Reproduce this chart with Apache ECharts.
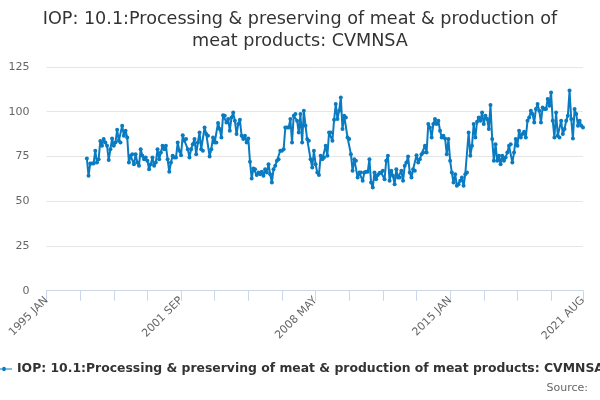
<!DOCTYPE html>
<html>
<head>
<meta charset="utf-8">
<script src="https://cdn.jsdelivr.net/npm/echarts@6/dist/echarts.min.js"></script>
<style>html,body{margin:0;padding:0;background:#fff;}#c{width:600px;height:400px;}</style>
</head>
<body>
<div id="c"></div>
<script>
const titleText = 'IOP: 10.1:Processing & preserving of meat & production of\nmeat products: CVMNSA';
const seriesName = 'IOP: 10.1:Processing & preserving of meat & production of meat products: CVMNSA';
const monthNames = ['JAN','FEB','MAR','APR','MAY','JUN','JUL','AUG','SEP','OCT','NOV','DEC'];
const firstYear = 1995;
const lastYear = 2021;
const lastMonth = 8;
const dataStartYear = 1997;
const yTicks = [0, 25, 50, 75, 100, 125];
// monthly values from 1997 JAN to 2021 AUG
const values = [
73.9,64.2,71.1,71.1,71.1,78.2,71.6,73.5,83.7,81,84.7,82.8,
81,73,79.1,85,81,82.8,89.9,83.8,82.8,92.2,86.6,89.4,
85.6,71.6,75.4,76.3,70.7,76.3,71.6,69.8,79.1,75.4,73.5,74.4,
72.6,67.9,70.7,74.4,69.8,71.6,79.1,73.5,77.2,81,79.1,81,
73.5,66.4,71.6,75.4,74.4,74.4,82.8,78.2,75.7,86.9,83.8,84.7,
79.1,74.4,79.1,81.9,84.7,76.3,82.8,88.4,79.1,78.2,91.2,87.5,
86.6,75,79.1,85.6,82.8,82.8,93.7,90.3,85.6,98.1,97.8,94,
95.9,89.4,96.8,99.6,95,87.5,93.1,95.5,86.6,84.7,86.6,82.8,
85,72,62.7,68.3,67.9,64.6,66,65.1,66.4,64.2,67.9,66,
70.7,65.1,60.4,67.9,69.8,72.6,73.5,78.2,78.2,79.1,91.2,91.2,
91.2,95.9,82.8,97.8,98.7,95,88.4,98.7,82.8,100.6,92.2,84.7,
83.8,73.5,68.8,78.2,70.7,66,64.6,75.4,73.5,74.4,81,75.4,
88.4,88.4,83.8,95.5,104.3,95.9,100.6,108,90.3,97.8,96.8,85.6,
84.7,76.3,67,73.5,72.6,63.2,66,66,61.4,66,66.4,66.4,
73.5,60.4,57.6,66,62.3,64.6,65.7,66,67,62.3,72.6,75.4,
61.4,67,64.2,59.5,67.9,63.2,63.2,67,61.4,69.8,71.6,75,
66,63.2,67.9,67,75.7,71.6,73.5,76.3,77.2,81,77.2,93.1,
91.2,85.6,93.1,95.9,93.1,95,89.4,85.6,86.6,85,76.3,84.7,
72.6,66,60.4,65.1,58.6,59.5,61.4,63.2,58.6,65.1,66,88.4,
75.4,81,93.1,85.6,94.4,96.8,95,99.6,93.1,97.8,95.9,90.3,
103.7,84.7,72.6,81.9,72.6,75.4,70.7,75.4,72.6,74.4,77.2,81,
81.9,71.6,77.2,84.7,81,89.4,85.6,87.5,88.8,85.6,95,96.8,
100.6,98.7,94,101.5,104.3,100.6,94,102.4,101.5,101.5,107.1,103.4,
110.8,95,85.6,99.6,86.6,85.6,95,87.5,90.3,95,97.8,111.8,
95.9,85,101.5,98.7,92.2,95,92.2,91.2
];

const categories = [];
for (let y = firstYear; y <= lastYear; y++) {
  for (let m = 0; m < 12; m++) {
    if (y === lastYear && m >= lastMonth) break;
    categories.push(y + ' ' + monthNames[m]);
  }
}
const lead = (dataStartYear - firstYear) * 12;
const seriesData = categories.map((c, i) => (i >= lead && i - lead < values.length) ? values[i - lead] : null);
const lastIdx = categories.length - 1;

const chart = echarts.init(document.getElementById('c'), null, {renderer: 'canvas'});
chart.setOption({
  animation: false,
  backgroundColor: '#ffffff',
  title: {
    text: titleText,
    left: 'center',
    top: 3,
    textStyle: {fontFamily: 'DejaVu Sans', fontSize: 17.6, fontWeight: 'normal', color: '#333333', lineHeight: 22}
  },
  legend: {
    left: -4,
    top: 363,
    padding: 0,
    itemWidth: 16,
    itemHeight: 6,
    itemGap: 5,
    textStyle: {fontFamily: 'DejaVu Sans', fontSize: 12.4, fontWeight: 'bold', color: '#333333', padding: [0, 0, 0, 0]},
    data: [{name: seriesName, icon: 'path://M0,2.6L6.2,2.6A1.8,1.8,0,1,1,9.8,2.6L16,2.6L16,3.4L9.8,3.4A1.8,1.8,0,1,1,6.2,3.4L0,3.4Z'}]
  },
  graphic: [{
    type: 'text',
    right: 12,
    top: 383,
    style: {text: 'Source:', fontFamily: 'DejaVu Sans', fontSize: 11, fill: '#666666'}
  }],
  grid: {left: 46.5, right: 17, top: 67, bottom: 109.3, containLabel: false},
  xAxis: {
    type: 'category',
    data: categories,
    boundaryGap: false,
    axisLine: {lineStyle: {color: '#ccd6eb'}},
    axisTick: {length: 10, lineStyle: {color: '#ccd6eb'}, interval: (i) => i % 20 === 0 || i === lastIdx},
    axisLabel: {
      interval: (i) => i % 80 === 0 || i === lastIdx,
      rotate: 45,
      margin: 8,
      color: '#666666',
      fontFamily: 'DejaVu Sans',
      fontSize: 11
    },
    splitLine: {show: false}
  },
  yAxis: {
    type: 'value',
    min: yTicks[0],
    max: yTicks[yTicks.length - 1],
    interval: 25,
    axisLine: {show: false},
    axisTick: {show: false},
    axisLabel: {color: '#666666', fontFamily: 'DejaVu Sans', fontSize: 11, margin: 17},
    splitLine: {lineStyle: {color: '#e6e6e6'}}
  },
  series: [{
    name: seriesName,
    type: 'line',
    data: seriesData,
    color: '#0a7bc1',
    symbol: 'circle',
    symbolSize: 4,
    showAllSymbol: true,
    lineStyle: {width: 2, color: '#0a7bc1'},
    itemStyle: {color: '#0a7bc1'},
    connectNulls: false
  }]
});
</script>
</body>
</html>
